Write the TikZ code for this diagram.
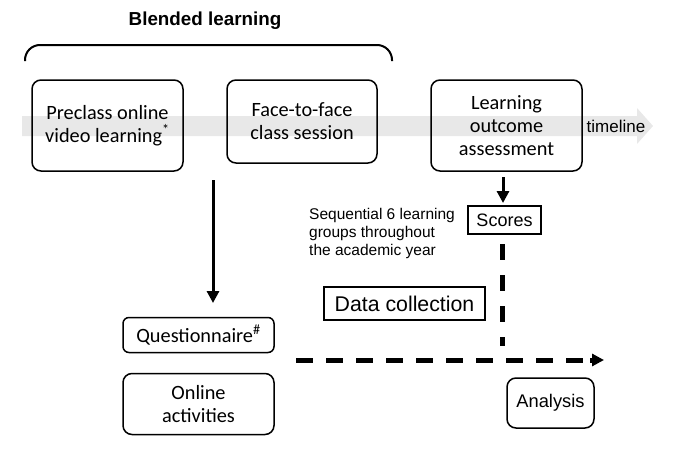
\documentclass[tikz,border=0pt]{standalone}
\usepackage{fontspec}
\setmainfont{Carlito}
\newfontfamily\arialf{Liberation Sans}
\usetikzlibrary{arrows.meta}
\begin{document}
\begin{tikzpicture}[x=1pt,y=-1pt,
  rbox/.style={draw, line width=1.5pt, rounded corners=9pt, align=center, inner sep=0pt,
    font=\fontsize{20.3}{23}\selectfont},
  sbox/.style={draw, line width=1.2pt, inner sep=0pt, font=\arialf},
  solidarr/.style={line width=3pt, -{Triangle[length=12pt,width=12pt]}},
  dasharr/.style={line width=5pt, dash pattern=on 17pt off 13pt},
]
\useasboundingbox (0,0) rectangle (685,450);
% timeline band
\fill[gray!18] (22,116) -- (637,116) -- (637,108) -- (653,126) -- (637,144) -- (637,136) -- (22,136) -- cycle;
\node[font=\arialf\fontsize{17}{19}\selectfont, inner sep=0pt] (tl) at (616,126) {timeline};
% title and brace
\node[font=\arialf\bfseries\fontsize{18.8}{20}\selectfont, inner sep=0pt] (title) at (205,21) {Blended learning};
\draw[line width=2pt, rounded corners=15pt] (25,61) -- (25,45) -- (392,45) -- (392,61);
% boxes
\node[rbox, minimum width=151pt, minimum height=91pt] (pre) at (107.5,125.5)
  {Preclass online\\video learning\textsuperscript{*}};
\node[rbox, minimum width=150pt, minimum height=83pt] (f2f) at (302,121.5)
  {Face-to-face\\class session};
\node[rbox, minimum width=151pt, minimum height=91pt] (loa) at (506.5,125.5)
  {Learning\\outcome\\assessment};
\node[rbox, minimum width=151pt, minimum height=35pt, rounded corners=6pt] (quest) at (198.5,335)
  {Questionnaire\textsuperscript{\#}};
\node[rbox, minimum width=151pt, minimum height=61pt] (online) at (198.5,404)
  {Online\\activities};
\node[rbox, minimum width=87pt, minimum height=50pt, font=\arialf\fontsize{18.3}{20}\selectfont] (ana) at (550.5,403)
  {Analysis};
\node[sbox, minimum width=73pt, minimum height=28pt, font=\arialf\fontsize{18}{19}\selectfont] (scores) at (504.5,220)
  {Scores};
\node[sbox, minimum width=161pt, minimum height=33pt, font=\arialf\fontsize{21.3}{23}\selectfont] (dc) at (404.5,303.5)
  {Data collection};
\node[anchor=north west, inner sep=0pt, align=left, font=\arialf\fontsize{15.5}{18}\selectfont] (seq) at (309,208)
  {Sequential 6 learning\\groups throughout\\the academic year};
% arrows
\coordinate (a1) at (213,180);
\coordinate (a2) at (213,303);
\draw[solidarr] (a1) -- (a2);
\coordinate (b1) at (503,177);
\coordinate (b2) at (503,203);
\draw[solidarr] (b1) -- (b2);
\coordinate (c1) at (502,244);
\coordinate (c2) at (502,346);
\draw[line width=5pt, dash pattern=on 16pt off 15pt] (c1) -- (c2);
\coordinate (d1) at (296,360);
\coordinate (d2) at (590,360);
\coordinate (d3) at (604,360);
\draw[dasharr] (d1) -- (d2);
\draw[line width=5pt, -{Triangle[length=12pt,width=12pt]}] (d2) -- (d3);
\end{tikzpicture}
\end{document}
